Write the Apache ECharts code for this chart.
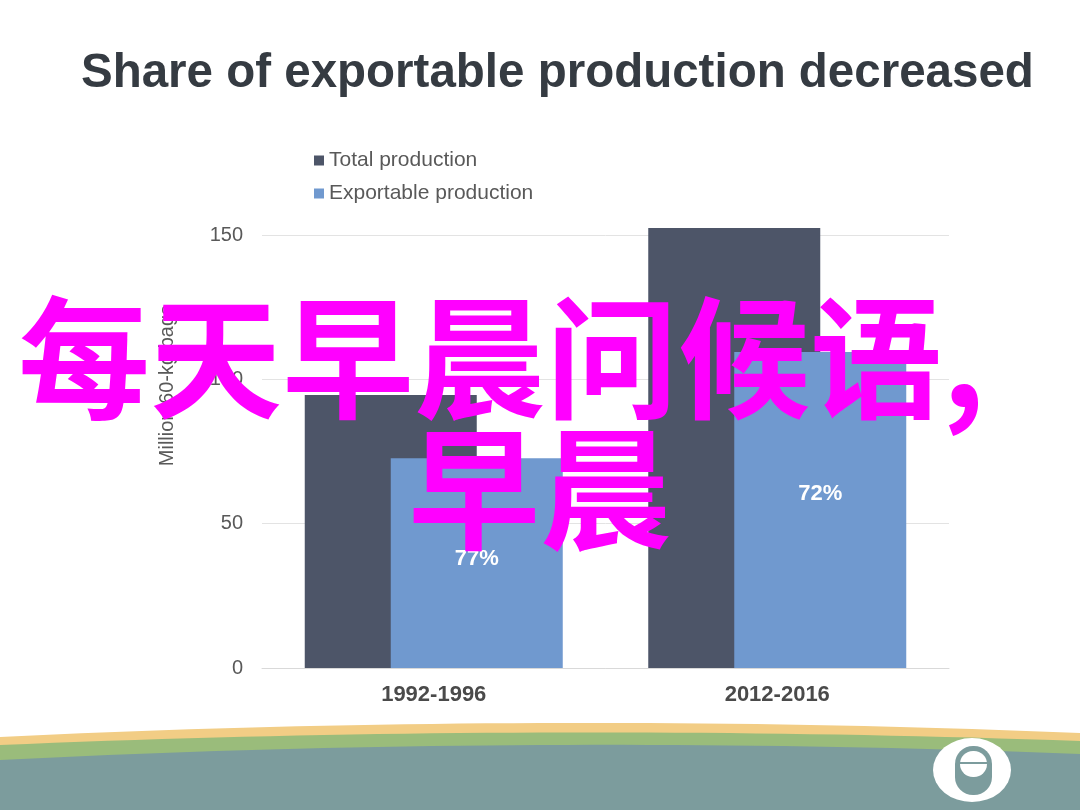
<!DOCTYPE html>
<html>
<head>
<meta charset="utf-8">
<script src="https://cdn.jsdelivr.net/npm/echarts@6/dist/echarts.min.js"></script>
<style>html,body{margin:0;padding:0;background:#fff}#c{width:1080px;height:810px}</style>
</head>
<body>
<div id="c"></div>
<script>
const categories = ['1992-1996', '2012-2016'];
const totalProduction = [94.6, 152.4];
const exportableProduction = [72.7, 109.5];
const exportableLabels = ['77%', '72%'];
const yTicks = [0, 50, 100, 150];
const seriesNames = ['Total production', 'Exportable production'];
const labelShiftY = [-4, -16];

function curveBand(y0, yMid, y1) {
  // decorative quadratic-curve band from top edge to bottom of page
  const pts = [];
  for (let i = 0; i <= 40; i++) {
    const t = i / 40;
    const x = 1080 * t;
    const y = (1 - t) * (1 - t) * y0 + 2 * (1 - t) * t * yMid + t * t * y1;
    pts.push([x, y]);
  }
  pts.push([1080, 810], [0, 810]);
  return pts;
}

const chart = echarts.init(document.getElementById('c'));
const font = 'Liberation Sans, Arial, sans-serif';
chart.setOption({
  backgroundColor: '#ffffff',
  animation: false,
  title: {
    text: 'Share of exportable production decreased',
    left: 76, top: 45,
    textStyle: { fontFamily: font, fontSize: 47.5, fontWeight: 'bold', color: '#353b42' }
  },
  legend: {
    orient: 'vertical', left: 309, top: 145, icon: 'rect',
    itemWidth: 10, itemHeight: 10, itemGap: 12,
    textStyle: { fontFamily: font, fontSize: 21, color: '#595959' },
    data: seriesNames
  },
  grid: { left: 262, right: 131, top: 235, bottom: 142, containLabel: false },
  xAxis: {
    type: 'category', data: categories,
    axisLine: { lineStyle: { color: '#d9d9d9' } },
    axisTick: { show: false },
    axisLabel: { fontFamily: font, fontSize: 22, fontWeight: 'bold', color: '#4a4a4a', margin: 16 }
  },
  yAxis: {
    type: 'value', min: yTicks[0], max: yTicks[yTicks.length - 1], interval: 50,
    axisLine: { show: false }, axisTick: { show: false },
    splitLine: { lineStyle: { color: '#e3e3e3' } },
    axisLabel: { fontFamily: font, fontSize: 20, color: '#595959', margin: 19 }
  },
  series: [
    {
      name: seriesNames[0], type: 'bar', data: totalProduction,
      barWidth: 172, barGap: '-50%', clip: false,
      itemStyle: { color: '#4d5568' }
    },
    {
      name: seriesNames[1], type: 'bar',
      data: exportableProduction.map((v, i) => ({ value: v, label: { offset: [0, labelShiftY[i]] } })),
      barWidth: 172, clip: false,
      itemStyle: { color: '#7099cf' },
      label: {
        show: true, position: 'inside',
        formatter: p => exportableLabels[p.dataIndex],
        fontFamily: font, fontSize: 22, fontWeight: 'bold', color: '#ffffff'
      }
    }
  ],
  graphic: [
    { type: 'text', x: 157, y: 305, rotation: Math.PI / 2, z: 10,
      style: { text: 'Million 60-kg bags', fill: '#595959', font: '20px ' + font, textAlign: 'right', textVerticalAlign: 'top' } },
    { type: 'polygon', z: 5, silent: true,
      shape: { points: curveBand(737, 711, 733) }, style: { fill: '#f2cd85' } },
    { type: 'polygon', z: 6, silent: true,
      shape: { points: curveBand(745, 722, 741) }, style: { fill: '#9abc7b' } },
    { type: 'polygon', z: 7, silent: true,
      shape: { points: curveBand(760, 733, 754) }, style: { fill: '#7c9c9d' } },
    { type: 'circle', z: 8, silent: true, x: 972, y: 770, scaleY: 32 / 39,
      shape: { cx: 0, cy: 0, r: 39 }, style: { fill: '#ffffff' } },
    { type: 'rect', z: 9, silent: true,
      shape: { x: 955, y: 746, width: 37, height: 49, r: 18 }, style: { fill: '#7c9c9d' } },
    { type: 'rect', z: 10, silent: true,
      shape: { x: 960, y: 751, width: 27, height: 26, r: 13 }, style: { fill: '#ffffff' } },
    { type: 'rect', z: 11, silent: true,
      shape: { x: 960, y: 762, width: 27, height: 2 }, style: { fill: '#7c9c9d' } },
    { type: 'text', z: 100, silent: true, x: 18, y: 292,
      style: { text: '每天早晨问候语,', fill: '#ff00ff', font: 'bold 132px "Noto Sans CJK SC"' } },
    { type: 'text', z: 100, silent: true, x: 408, y: 423,
      style: { text: '早晨', fill: '#ff00ff', font: 'bold 132px "Noto Sans CJK SC"' } }
  ]
});
</script>
</body>
</html>
